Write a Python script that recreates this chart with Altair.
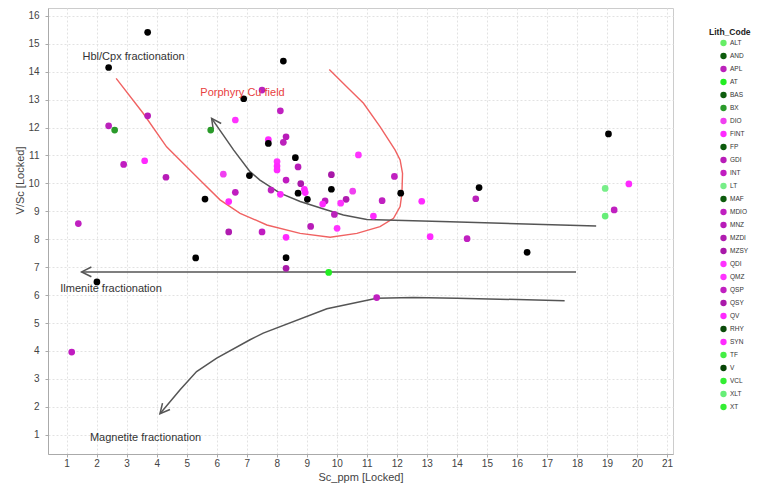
import altair as alt
import pandas as pd

# ---- legend categories and colours ----
codes = ["ALT", "AND", "APL", "AT", "BAS", "BX", "DIO", "FINT", "FP", "GDI", "INT", "LT",
         "MAF", "MDIO", "MNZ", "MZDI", "MZSY", "QDI", "QMZ", "QSP", "QSY", "QV", "RHY",
         "SYN", "TF", "V", "VCL", "XLT", "XT"]
code_colors = ["#66ee66", "#0d5c0d", "#bb22bb", "#22ee22", "#0e5e0e", "#2a9a2a", "#f040f0",
               "#ff2aff", "#0c5a0c", "#b81cb8", "#c01cc0", "#77ee88", "#0c5a0c", "#c020c0",
               "#b81cb8", "#b01cb0", "#a818a8", "#ff33ff", "#ff33ff", "#c020c0", "#aa1aaa",
               "#ff2aff", "#0a4a0a", "#ff2aff", "#44ee44", "#064406", "#33ee33", "#66ee77",
               "#33ee33"]

# ---- coloured samples ----
pt_x = [2.40, 3.70, 2.90, 4.31, 1.39, 6.62, 6.40, 7.51, 8.12, 8.31, 8.22, 8.71, 8.31, 9.82,
        11.92, 8.80, 7.81, 10.31, 9.61, 9.92, 11.51, 9.13, 7.51, 8.31, 14.63, 14.34, 19.24,
        11.33, 1.17,
        3.60, 6.62, 6.22, 6.40, 7.72, 8.01, 8.01, 8.01, 10.72, 8.92, 8.95, 8.12, 10.53, 10.13,
        9.53, 11.22, 12.83, 10.01, 8.31, 13.11, 19.73,
        2.60, 5.80, 9.73, 18.94, 18.94]
pt_y = [12.06, 12.42, 10.68, 10.22, 8.56, 9.68, 8.26, 13.34, 12.60, 11.67, 11.47, 10.59, 10.12,
        10.31, 10.25, 9.99, 9.76, 9.43, 9.37, 8.89, 9.38, 8.46, 8.26, 6.96, 9.45, 8.02, 9.05,
        5.91, 3.96,
        10.81, 12.27, 10.33, 9.35, 11.57, 10.78, 10.62, 10.48, 11.02, 9.79, 9.67, 9.61, 9.72,
        9.29, 9.26, 8.83, 9.36, 8.39, 8.07, 8.09, 9.98,
        11.91, 11.91, 6.81, 9.82, 8.83]
pt_code = ["APL", "GDI", "INT", "MNZ", "MDIO", "INT", "MZDI", "APL", "MDIO", "GDI", "APL", "MNZ",
           "INT", "MZSY", "QSP", "QSY", "MDIO", "MZDI", "GDI", "APL", "QSP", "MNZ", "INT", "MZSY",
           "APL", "QSP", "MDIO", "MDIO", "INT",
           "FINT", "QDI", "DIO", "QV", "SYN", "QMZ", "FINT", "QV", "QDI", "SYN", "QV", "FINT",
           "DIO", "QMZ", "QV", "FINT", "SYN", "QDI", "FINT", "QV", "SYN",
           "BX", "BX", "AT", "LT", "XLT"]

# ---- samples shown in black ----
blk_x = [3.70, 2.40, 5.61, 6.90, 7.09, 8.22, 7.72, 8.62, 8.71, 9.02, 9.82, 12.13, 8.31, 19.05,
         14.74, 16.34, 5.30, 2.01]
blk_y = [15.41, 14.15, 9.44, 13.03, 10.28, 14.38, 11.43, 10.92, 9.65, 9.43, 9.79, 9.65, 7.34,
         11.77, 9.85, 7.53, 7.33, 6.47]

# ---- Porphyry Cu field outline ----
cu_x = [2.65, 3.55, 4.33, 5.44, 6.11, 6.78, 7.67, 8.78, 9.78, 10.67, 11.44, 11.89, 12.11,
        12.17, 12.19, 12.11, 11.94, 11.44, 10.89, 10.33, 9.75]
cu_y = [13.76, 12.51, 11.31, 10.12, 9.41, 8.93, 8.51, 8.21, 8.07, 8.21, 8.45, 8.75, 9.17,
        9.65, 10.36, 10.84, 11.20, 12.03, 12.87, 13.46, 14.08]

# ---- fractionation trend paths ----
hbl_x = [18.64, 13.78, 11.00, 10.22, 9.67, 8.78, 8.11, 7.44, 7.11, 6.56, 6.22, 5.83]
hbl_y = [8.47, 8.63, 8.71, 8.87, 9.05, 9.35, 9.65, 10.12, 10.42, 11.20, 11.73, 12.33]
ilm_x = [17.97, 1.50]
ilm_y = [6.83, 6.83]
mag_x = [17.59, 14.00, 12.55, 11.33, 9.67, 7.55, 7.11, 6.00, 5.33, 4.78, 4.11]
mag_y = [5.80, 5.89, 5.91, 5.89, 5.51, 4.64, 4.40, 3.74, 3.26, 2.61, 1.75]

head_x = [5.83, 1.50, 4.11]
head_y = [12.33, 6.83, 1.75]
head_angle = [235, 180, 130]

lab_text = ["Hbl/Cpx fractionation", "Porphyry Cu field", "Ilmenite fractionation",
            "Magnetite fractionation"]
lab_x = [3.23, 6.86, 2.48, 3.63]
lab_y = [14.53, 13.22, 6.22, 0.90]
lab_color = ["#333333", "#e84040", "#333333", "#333333"]

FONT = "Liberation Sans"

pts = pd.DataFrame({"x": pt_x, "y": pt_y, "Lith_Code": pt_code})
blk = pd.DataFrame({"x": blk_x, "y": blk_y})
cu = pd.DataFrame({"x": cu_x, "y": cu_y, "i": list(range(len(cu_x)))})
paths = pd.concat([
    pd.DataFrame({"x": hbl_x, "y": hbl_y, "i": list(range(len(hbl_x))), "path": "hbl"}),
    pd.DataFrame({"x": ilm_x, "y": ilm_y, "i": list(range(len(ilm_x))), "path": "ilm"}),
    pd.DataFrame({"x": mag_x, "y": mag_y, "i": list(range(len(mag_x))), "path": "mag"}),
])
heads = pd.DataFrame({"x": head_x, "y": head_y, "a": head_angle})
labs = pd.DataFrame({"x": lab_x, "y": lab_y, "t": lab_text, "c": lab_color})

X = alt.X("x:Q", title="Sc_ppm [Locked]",
          scale=alt.Scale(domain=[0.38, 21.2], nice=False, zero=False),
          axis=alt.Axis(values=list(range(1, 22)), grid=True, labelPadding=1,
                        titleY=23, titleBaseline="middle"))
Y = alt.Y("y:Q", title="V/Sc [Locked]",
          scale=alt.Scale(domain=[0.31, 16.28], nice=False, zero=False),
          axis=alt.Axis(values=list(range(1, 17)), grid=True, labelPadding=6,
                        titleX=-23, titleY=172))

cu_line = alt.Chart(cu).mark_line(color="#f06262", strokeWidth=1.4).encode(
    x=X, y=Y, order="i:Q")
trend = alt.Chart(paths).mark_line(color="#555555", strokeWidth=1.5).encode(
    x=X, y=Y, order="i:Q", detail="path:N")
head = alt.Chart(heads).mark_point(
    shape="M-1,-0.5L0,0L-1,0.5", filled=False, color="#555555", strokeWidth=1.5,
    size=380, opacity=1).encode(x=X, y=Y, angle=alt.Angle("a:Q", scale=None))
colored = alt.Chart(pts).mark_circle(size=45, opacity=1).encode(
    x=X, y=Y,
    color=alt.Color("Lith_Code:N", scale=alt.Scale(domain=codes, range=code_colors),
                    legend=alt.Legend(title="Lith_Code", orient="none", legendX=661,
                                      legendY=20, titleFont=FONT, titleFontSize=8.5,
                                      titleFontWeight="bold", titleColor="#222222",
                                      titlePadding=3, labelFont=FONT, labelFontSize=6.5,
                                      labelColor="#333333", symbolType="circle",
                                      symbolSize=40, symbolStrokeWidth=0, symbolOpacity=1,
                                      rowPadding=6, padding=0, symbolOffset=11,
                                      labelOffset=3)))
black = alt.Chart(blk).mark_circle(size=45, opacity=1, color="#000000").encode(x=X, y=Y)
texts = alt.Chart(labs).mark_text(font=FONT, fontSize=11).encode(
    x=X, y=Y, text="t:N", color=alt.Color("c:N", scale=None))

chart = alt.layer(cu_line, trend, head, colored, black, texts).properties(
    width=625, height=446, autosize="none",
    padding={"left": 40, "top": 0, "right": 78, "bottom": 29},
).configure_view(stroke="#cccccc").configure_axis(
    domainColor="#aaaaaa", tickColor="#aaaaaa", tickSize=3, gridColor="#e2e2e2",
    gridDash=[2, 2], labelFont=FONT, labelFontSize=10, labelColor="#444444",
    titleFont=FONT, titleFontSize=11, titleFontWeight="normal", titleColor="#444444",
)

chart.save("out.html", embed_options={"renderer": "svg", "actions": False})
